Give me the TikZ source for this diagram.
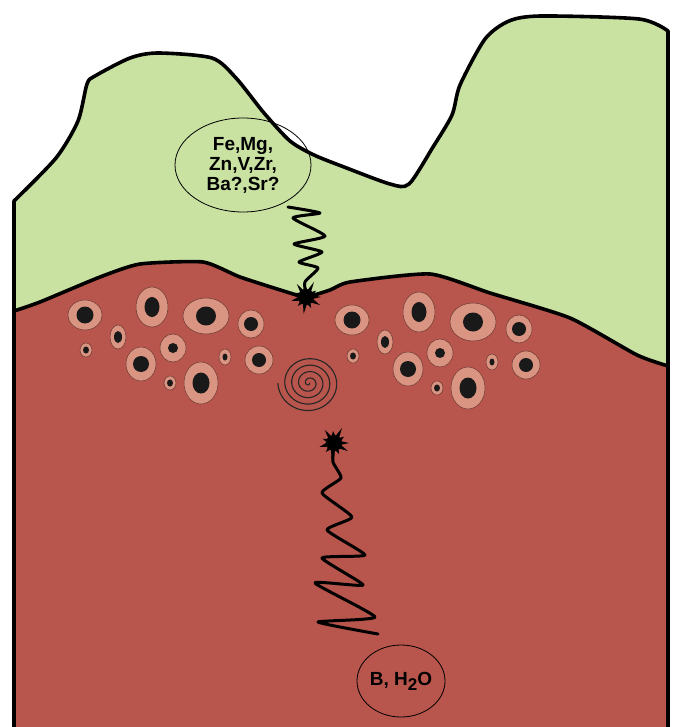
\documentclass[tikz,border=0pt]{standalone}
\usepackage{fontspec}
\setmainfont{Liberation Sans}
\usetikzlibrary{shapes.geometric}
\definecolor{crust}{HTML}{C9E2A2}
\definecolor{mantle}{HTML}{B8554C}
\definecolor{grain}{HTML}{DA9482}
\definecolor{grainline}{HTML}{6A3A32}
\tikzset{
  outline/.style={line width=3.6pt, line join=round, line cap=round, black},
  spring/.style={line width=3pt, line join=round, line cap=round, black},
  label/.style={draw, ellipse, line width=0.8pt, inner sep=0pt, align=center,
                font=\bfseries\fontsize{19}{20}\selectfont},
}
% spiky burst centred on a named coordinate
\newcommand\burst[3]{%
  \coordinate (#1) at (#2,#3);
  \begin{scope}[shift={(#1)}]
    \fill[black] (0:15pt) -- (15:7pt) -- (32:12pt) -- (45:7pt) -- (62:17pt) -- (78:7pt)
      -- (95:12pt) -- (110:7pt) -- (125:16pt) -- (142:7pt) -- (160:12pt) -- (175:7pt)
      -- (195:15pt) -- (212:7pt) -- (228:12pt) -- (244:7pt) -- (262:17pt) -- (278:7pt)
      -- (295:12pt) -- (310:7pt) -- (330:16pt) -- (345:7pt) -- cycle;
    \fill[black] (0,0) circle (8pt);
  \end{scope}}
\begin{document}
\begin{tikzpicture}[x=1pt,y=-1pt]
\useasboundingbox (0,0) rectangle (676,727);

% upper (green) layer
\fill[crust] (14,727) -- plot[smooth,tension=0.45] coordinates {
  (14,201) (56,158) (78,121) (87,84) (95,76) (130,58) (158,53) (212,58) (236,78)
  (264,113) (290,141) (314,155) (344,167) (390,184) (409,184) (433,147) (452,115)
  (460,85) (485,39) (509,21) (541,16) (639,19) (668,31)} -- (668,727) -- cycle;

% lower (red) layer
\fill[mantle] plot[smooth,tension=0.35] coordinates {
  (14,311) (40,302) (100,277) (140,264) (203,262) (240,277) (290,293) (306,297)
  (330,290) (350,282) (430,274) (490,293) (570,318) (637,355) (668,366)}
  -- (668,727) -- (14,727) -- cycle;

% grains: rim and dark core
\foreach \gx/\gy/\ra/\rb/\ca/\cb in {
  85/315/17/15/8.5/8.5, 152/307/16/20/7.5/10, 206/316/23/18/10/9.5, 251/324/13/14/7/7,
  118/337/8/12/4/6, 86/350/6/7/3/3.5, 173/348/13/14/5/5, 141/364/15/17/8/8,
  225/357/6/8/2.5/3.5, 259/360/14/14/7/7, 170/383/6/7/3/3.5, 201/383/17/21/8.5/10.5,
  352/320/17/15/8.5/8.5, 419/312/16/20/7.5/10, 473/322/23/19/10/9.5, 519/329/13/14/7/7,
  385/342/8/12/4/6, 353/356/6/7/3/3.5, 440/353/13/14/5/5, 408/369/15/17/8/8,
  492/362/6/8/2.5/3.5, 526/365/14/14/7/7, 437/388/6/7/3/3.5, 468/388/17/21/8.5/10.5} {
  \filldraw[fill=grain, draw=grainline, line width=0.5pt]
    (\gx,\gy) ellipse [x radius=\ra pt, y radius=\rb pt];
  \fill[black!90] (\gx,\gy) ellipse [x radius=\ca pt, y radius=\cb pt];
}

% interface between the layers
\draw[outline] plot[smooth,tension=0.35] coordinates {
  (14,311) (40,302) (100,277) (140,264) (203,262) (240,277) (290,293) (306,297)
  (330,290) (350,282) (430,274) (490,293) (570,318) (637,355) (668,366)};

% outer frame
\draw[outline] (14,727) -- plot[smooth,tension=0.45] coordinates {
  (14,201) (56,158) (78,121) (87,84) (95,76) (130,58) (158,53) (212,58) (236,78)
  (264,113) (290,141) (314,155) (344,167) (390,184) (409,184) (433,147) (452,115)
  (460,85) (485,39) (509,21) (541,16) (639,19) (668,31)} -- (668,727);

% spiral
\draw[line width=1.1pt, black!85] plot[domain=0.3:28.27, samples=400, smooth]
  ({309+1.1*\x*cos(\x r)}, {383+1.03*\x*sin(\x r)});

% labels
\node[label, minimum width=136pt, minimum height=94pt] (upper) at (243,165)
  {Fe,Mg,\\Zn,V,Zr,\\Ba?,Sr?};
\node[label, minimum width=88pt, minimum height=72pt] (lower) at (401,681)
  {B, H\raisebox{-5pt}{\fontsize{17}{17}\selectfont 2}O};

% bursts and springs
\burst{burstA}{306}{297}
\burst{burstB}{334}{443}
\coordinate (sprA) at (288,207);
\coordinate (sprB) at (378,634);

\draw[spring] plot[smooth,tension=0.35] coordinates {
  (sprA) (320,213) (293,218) (325,236) (294,244) (322,252) (299,262) (318,268)
  (305,282) (burstA)};

\draw[spring] plot[smooth,tension=0.3] coordinates {
  (burstB) (333,462) (341,478) (322,493) (352,517) (327,530) (365,555) (322,558)
  (363,585) (315,583) (375,617) (318,622) (sprB)};

\end{tikzpicture}
\end{document}
